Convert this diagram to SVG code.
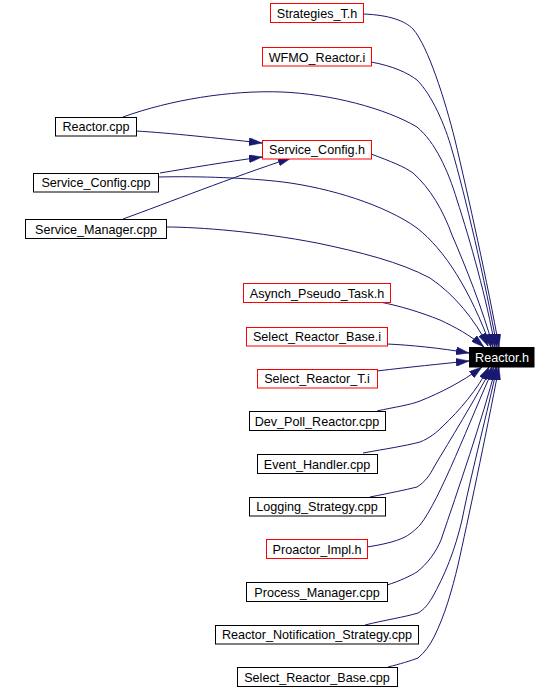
<svg xmlns="http://www.w3.org/2000/svg" width="558" height="689" viewBox="0 0 558 689">
<style>
.n rect{fill:#fff;stroke:#000;stroke-width:1}
.n.r rect{stroke:#f00}
.n text{font-family:"Liberation Sans",Arial,Helvetica,sans-serif;font-size:12.6px;fill:#000;text-anchor:middle}
#n_reactor_h rect{fill:#000;stroke:#000}
#n_reactor_h text{fill:#fff}
.e path{fill:none;stroke:#191970;stroke-width:1;marker-end:url(#ah)}
</style>
<defs>
<marker id="ah" markerUnits="userSpaceOnUse" viewBox="0 0 13 8" markerWidth="13" markerHeight="8" refX="13" refY="4" orient="auto">
<path d="M0,0 L13,4 L0,8 z" fill="#191970" stroke="#191970" stroke-width="0.5"/>
</marker>
</defs>
<rect width="558" height="689" fill="#fff"/>
<g id="edges" class="e">
<path d="M363,14 C390,15 405,21 413,29 C428,46 445,100 455,140 C468,195 488,285 499,347"/>
<path d="M371,62 C393,66 408,73 417,80 C432,95 445,125 452,150 C465,195 485,280 497,347"/>
<path d="M123,117 C170,100 230,90 282,92 C330,94 385,108 417,127 C435,142 448,170 457,200 C470,240 487,300 495,347"/>
<path d="M371,154 C390,161 405,167 413,173 C430,188 443,210 452,235 C465,265 483,310 493,347"/>
<path d="M158,177 C200,176 250,178 283,182 C330,188 385,205 417,228 C445,250 470,290 491,347"/>
<path d="M166,227 C200,227 260,232 317,243 C360,252 400,262 430,278 C455,295 475,320 488,346"/>
<path d="M380,302 C400,306 420,312 440,320 C455,327 470,335 484,347"/>
<path d="M387,344 C410,345 440,348 469,353"/>
<path d="M377,371 C410,367 440,364 469,361"/>
<path d="M377,411 C395,407 410,405 420,401 C440,393 462,382 482,367"/>
<path d="M363,453 C385,449 405,446 420,442 C430,438 437,432 442,427 C460,410 477,390 489,367"/>
<path d="M370,497 C390,493 405,490 417,487 C425,482 430,475 434,467 C450,440 475,400 492,367"/>
<path d="M367,547 C380,545 395,542 405,537 C412,533 416,529 420,525 C440,500 470,420 494,367"/>
<path d="M387,585 C400,581 410,576 417,572 C428,563 436,552 441,540 C458,490 482,420 496,367"/>
<path d="M365,625 C385,620 405,617 418,613 C425,609 428,604 432,598 C445,575 455,550 462,520 C472,470 488,410 497,367"/>
<path d="M388,667 C400,664 410,661 418,658 C425,652 430,645 434,637 C445,615 452,590 458,565 C468,520 485,440 499,367"/>
<path d="M136,131 C170,133 215,138 262,143"/>
<path d="M160,173 C190,168 225,162 262,157"/>
<path d="M123,219 C170,202 230,178 291,158"/>
</g>
<g id="n_strategies_t_h" class="n r"><rect x="270.5" y="3.5" width="93" height="19"/><text x="317" y="17.8">Strategies_T.h</text></g>
<g id="n_wfmo_reactor_i" class="n r"><rect x="262.5" y="47.5" width="109" height="18.5"/><text x="317" y="61.5">WFMO_Reactor.i</text></g>
<g id="n_reactor_cpp" class="n"><rect x="55.5" y="117.5" width="81" height="18.5"/><text x="96" y="131.3">Reactor.cpp</text></g>
<g id="n_service_config_h" class="n r"><rect x="262.5" y="140.5" width="109" height="18.5"/><text x="317" y="154.3">Service_Config.h</text></g>
<g id="n_service_config_cpp" class="n"><rect x="33.5" y="173.5" width="125" height="18.5"/><text x="96" y="187.3">Service_Config.cpp</text></g>
<g id="n_service_manager_cpp" class="n"><rect x="25.5" y="219.5" width="141" height="19"/><text x="96" y="233.5">Service_Manager.cpp</text></g>
<g id="n_asynch_pseudo_task_h" class="n r"><rect x="243.5" y="283.5" width="147" height="19"/><text x="317" y="297.5">Asynch_Pseudo_Task.h</text></g>
<g id="n_select_reactor_base_i" class="n r"><rect x="246.5" y="327.5" width="141" height="18.5"/><text x="317" y="341.3">Select_Reactor_Base.i</text></g>
<g id="n_reactor_h" class="n"><rect x="469.5" y="347.5" width="64.5" height="19.5"/><text x="502" y="361.8">Reactor.h</text></g>
<g id="n_select_reactor_t_i" class="n r"><rect x="257.5" y="369.5" width="120" height="18.5"/><text x="317" y="383.3">Select_Reactor_T.i</text></g>
<g id="n_dev_poll_reactor_cpp" class="n"><rect x="249.5" y="411.5" width="136" height="19"/><text x="317" y="425.5">Dev_Poll_Reactor.cpp</text></g>
<g id="n_event_handler_cpp" class="n"><rect x="257.5" y="454.5" width="120" height="19"/><text x="317" y="468.5">Event_Handler.cpp</text></g>
<g id="n_logging_strategy_cpp" class="n"><rect x="249.5" y="497.5" width="136" height="18.5"/><text x="317" y="511.3">Logging_Strategy.cpp</text></g>
<g id="n_proactor_impl_h" class="n r"><rect x="266.5" y="539.5" width="101" height="19"/><text x="317" y="553.5">Proactor_Impl.h</text></g>
<g id="n_process_manager_cpp" class="n"><rect x="246.5" y="582.5" width="141" height="19"/><text x="317" y="596.5">Process_Manager.cpp</text></g>
<g id="n_reactor_notification_strategy_cpp" class="n"><rect x="215.5" y="625.5" width="203" height="18.5"/><text x="317" y="639.3">Reactor_Notification_Strategy.cpp</text></g>
<g id="n_select_reactor_base_cpp" class="n"><rect x="237.5" y="667.5" width="160" height="19"/><text x="317" y="681.5">Select_Reactor_Base.cpp</text></g>
</svg>
